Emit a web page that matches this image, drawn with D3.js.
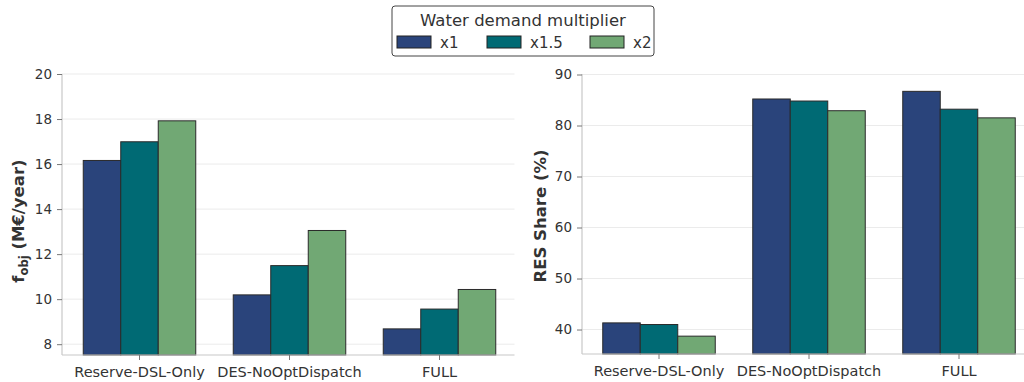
<!DOCTYPE html>
<html>
<head>
<meta charset="utf-8">
<script src="https://cdn.jsdelivr.net/npm/d3@7"></script>
<style>
body { margin: 0; background: #fff; }
text { font-family: "DejaVu Sans", sans-serif; fill: #333; }
</style>
</head>
<body>
<div id="chart"></div>
<script>
var categories = ["Reserve-DSL-Only", "DES-NoOptDispatch", "FULL"];
var multipliers = ["x1", "x1.5", "x2"];
var colors = ["#2a447b", "#006a74", "#71a874"];

// values per category, one per multiplier
var fobj = [[16.16, 16.99, 17.92], [10.19, 11.49, 13.05], [8.68, 9.56, 10.43]];
var resShare = [[41.3, 40.98, 38.7], [85.2, 84.8, 82.9], [86.7, 83.2, 81.5]];

var fobjTicks = [8, 10, 12, 14, 16, 18, 20];
var resTicks = [40, 50, 60, 70, 80, 90];

var W = 1024, H = 382;
var svg = d3.select("#chart").append("svg")
	.attr("width", W).attr("height", H);

function panel(opts){
	var x = d3.scaleBand().domain(categories)
		.range([opts.x0, opts.x1]).paddingInner(0.25).paddingOuter(0.125);
	var xs = d3.scaleBand().domain(multipliers).range([0, x.bandwidth()]);
	var y = d3.scaleLinear().domain(opts.ydom).range([opts.yb, opts.yt]);

	var g = svg.append("g");

	// gridlines
	g.selectAll(".grid").data(opts.ticks).enter().append("line")
		.attr("x1", opts.ax).attr("x2", opts.x1)
		.attr("y1", function(d){ return y(d); })
		.attr("y2", function(d){ return y(d); })
		.style("stroke", "#ebebeb").style("stroke-width", 1);

	var grp = g.selectAll(".grp").data(opts.data).enter().append("g")
		.attr("transform", function(d, i){ return "translate(" + x(categories[i]) + ",0)"; });
	grp.selectAll("rect").data(function(d){ return d; }).enter().append("rect")
		.attr("x", function(d, i){ return xs(multipliers[i]); })
		.attr("width", xs.bandwidth())
		.attr("y", function(d){ return y(d); })
		.attr("height", function(d){ return opts.yb - y(d); })
		.style("fill", function(d, i){ return colors[i]; })
		.style("stroke", "#2a2a2a").style("stroke-width", 1);

	var yAxis = g.append("g").attr("transform", "translate(" + opts.ax + ",0)")
		.call(d3.axisLeft(y).tickValues(opts.ticks).tickSize(5).tickPadding(5));
	var xAxis = g.append("g").attr("transform", "translate(0," + opts.yb + ")")
		.call(d3.axisBottom(x).tickSize(5).tickPadding(7));
	[yAxis, xAxis].forEach(function(a){
		a.select(".domain").style("stroke", "#c8c8c8").style("stroke-width", 1.2);
		a.selectAll(".tick line").style("stroke", "#777");
		a.selectAll("text").style("fill", "#333")
			.style("font-family", "DejaVu Sans, sans-serif");
	});
	yAxis.selectAll("text").style("font-size", "13.5px");
	xAxis.selectAll("text").style("font-size", "14.5px");
	yAxis.select(".domain").attr("d", "M0," + opts.yb + "V" + opts.yt);
	xAxis.select(".domain").attr("d", "M" + opts.ax + ",0H" + opts.x1);
	return g;
}

panel({ax: 62, x0: 64.5, x1: 514.5, yt: 74, yb: 355, ydom: [7.52, 20.0], ticks: fobjTicks, data: fobj});
panel({ax: 582, x0: 584, x1: 1034, yt: 74, yb: 354, ydom: [35.2, 90.1], ticks: resTicks, data: resShare});

// y labels
var lab1 = svg.append("text")
	.attr("transform", "translate(24,221) rotate(-90)")
	.attr("text-anchor", "middle")
	.style("font-size", "16.5px").style("font-weight", "bold");
lab1.append("tspan").text("f");
lab1.append("tspan").attr("dy", 4).style("font-size", "11.5px").text("obj");
lab1.append("tspan").attr("dy", -4).text(" (M€/year)");

svg.append("text")
	.attr("transform", "translate(546,216) rotate(-90)")
	.attr("text-anchor", "middle")
	.style("font-size", "16.5px").style("font-weight", "bold")
	.text("RES Share (%)");

// legend
var leg = svg.append("g");
leg.append("rect").attr("x", 392).attr("y", 6).attr("width", 262).attr("height", 50)
	.attr("rx", 3)
	.style("fill", "#fff").style("stroke", "#444").style("stroke-width", 1);
leg.append("text").attr("x", 523).attr("y", 26).attr("text-anchor", "middle")
	.style("font-size", "16.5px").text("Water demand multiplier");
var legX = [397, 487, 590];
var items = leg.selectAll(".item").data(multipliers).enter().append("g")
	.attr("transform", function(d, i){ return "translate(" + legX[i] + ",36)"; });
items.append("rect").attr("width", 34).attr("height", 12)
	.style("fill", function(d, i){ return colors[i]; })
	.style("stroke", "#222").style("stroke-width", 1);
items.append("text").attr("x", 43).attr("y", 12)
	.style("font-size", "15px").text(function(d){ return d; });
</script>
</body>
</html>
